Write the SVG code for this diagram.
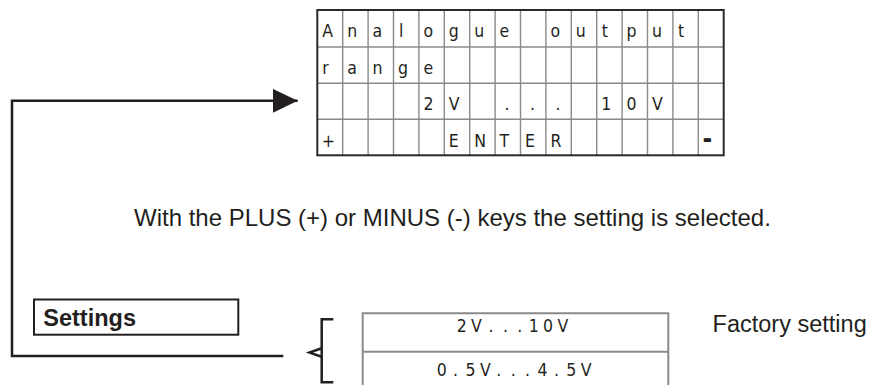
<svg xmlns="http://www.w3.org/2000/svg" width="872" height="385" viewBox="0 0 872 385">
  <style>
    .lcd { font-family: "DejaVu Sans Condensed", "DejaVu Sans", sans-serif; font-stretch: condensed; font-size: 17.5px; fill: #231f20; }
    .grid { fill: none; stroke: #8a8a8a; stroke-width: 1.4; }
    .frame { fill: none; stroke: #2a2a2a; stroke-width: 2; }
    .body { font-family: "Liberation Sans", Arial, sans-serif; font-size: 23.5px; fill: #231f20; }
    .bold { font-weight: bold; }
    .conn { fill: none; stroke: #231f20; stroke-width: 2.5; }
    .opt { fill: none; stroke: #8a8a8a; stroke-width: 2; }
  </style>
  <defs>
    <marker id="arrowHead" markerUnits="userSpaceOnUse" markerWidth="26" markerHeight="26" refX="25" refY="12" orient="auto">
      <path d="M0,0 L25,12 L0,24 Z" fill="#231f20"/>
    </marker>
  </defs>

  <!-- LCD display: 16 columns x 4 rows -->
  <g id="lcd-display">
    <path class="grid" d="M342.7,10V155.3 M368.1,10V155.3 M393.5,10V155.3 M418.9,10V155.3 M444.3,10V155.3 M469.7,10V155.3 M495.1,10V155.3 M520.5,10V155.3 M545.9,10V155.3 M571.3,10V155.3 M596.7,10V155.3 M622.1,10V155.3 M647.5,10V155.3 M672.9,10V155.3 M698.3,10V155.3 M317.3,47H723.7 M317.3,83.2H723.7 M317.3,119.3H723.7"/>
    <rect class="frame" x="317.3" y="10" width="406.4" height="145.3"/>
    <g class="lcd">
      <!-- row 1 -->
      <text x="322.3" y="37">A</text>
      <text x="347.2" y="37">n</text>
      <text x="372.6" y="37">a</text>
      <text x="399" y="37">l</text>
      <text x="423.4" y="37">o</text>
      <text x="448.8" y="37">g</text>
      <text x="474.2" y="37">u</text>
      <text x="499.6" y="37">e</text>
      <text x="550.4" y="37">o</text>
      <text x="575.8" y="37">u</text>
      <text x="601.7" y="37">t</text>
      <text x="626.6" y="37">p</text>
      <text x="652" y="37">u</text>
      <text x="677.9" y="37">t</text>
      <!-- row 2 -->
      <text x="322.3" y="73.5">r</text>
      <text x="347.2" y="73.5">a</text>
      <text x="372.6" y="73.5">n</text>
      <text x="398" y="73.5">g</text>
      <text x="423.4" y="73.5">e</text>
      <!-- row 3 -->
      <text x="423.4" y="110">2</text>
      <text x="448.8" y="110">V</text>
      <text x="504.6" y="110">.</text>
      <text x="530" y="110">.</text>
      <text x="555.4" y="110">.</text>
      <text x="601.2" y="110">1</text>
      <text x="626.6" y="110">0</text>
      <text x="652" y="110">V</text>
      <!-- row 4 -->
      <text x="321.8" y="147">+</text>
      <text x="448.8" y="147">E</text>
      <text x="474.2" y="147">N</text>
      <text x="499.6" y="147">T</text>
      <text x="525" y="147">E</text>
      <text x="550.4" y="147">R</text>
      <text x="702.5" y="148" style="font-weight:bold;font-size:26px">-</text>
    </g>
  </g>

  <!-- explanatory line -->
  <g id="hint">
    <text class="body" x="134" y="226" style="font-size:24px">With the PLUS (+) or MINUS (-) keys the setting is selected.</text>
  </g>

  <!-- menu entry -->
  <g id="settings">
    <rect x="34" y="299.5" width="204.3" height="35.2" fill="#fff" stroke="#231f20" stroke-width="2"/>
    <text class="body bold" x="43.3" y="326.3">Settings</text>
  </g>

  <!-- selectable ranges, characters on a fixed pitch -->
  <g id="options">
    <path class="opt" d="M362.7,386V313.3H668.3V386 M362.7,351.7H668.3"/>
    <text class="lcd" y="331.7" x="456.7 471.1 488.5 502.9 517.3 528.7 543.1 557.5">2V...10V</text>
    <text class="lcd" y="376" x="436.7 453.1 465.5 479.9 496.3 510.7 525.1 537.5 553.9 566.3 580.7">0.5V...4.5V</text>
  </g>

  <g id="factory-note">
    <text class="body" x="712.6" y="331.7">Factory setting</text>
  </g>

  <!-- connectors -->
  <g id="connectors">
    <path class="conn" d="M283.3,356H12V100.8H297.7" marker-end="url(#arrowHead)"/>
    <path class="conn" d="M333.3,319.3H321.7V382.3H333.3"/>
    <path class="conn" d="M321.7,348.3L309.5,352.6L321.7,356.8"/>
  </g>
</svg>
